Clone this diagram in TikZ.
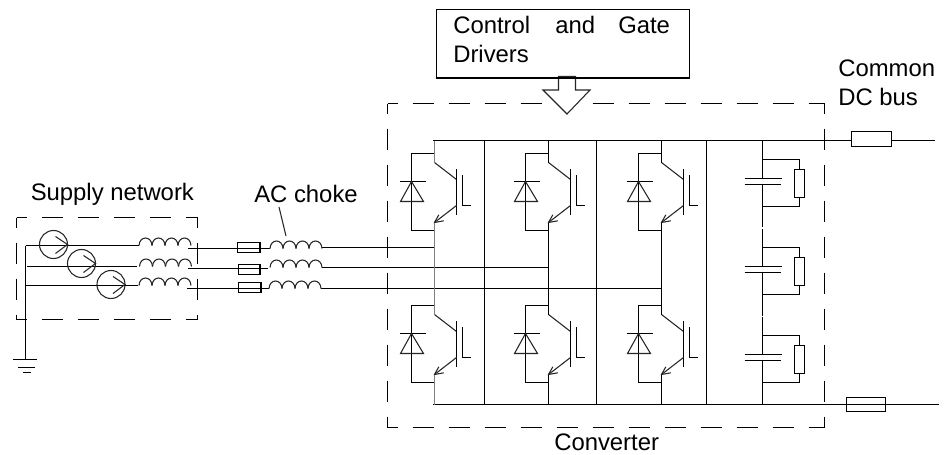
\documentclass[tikz,border=0pt]{standalone}
\usepackage{fontspec}
\setmainfont{Liberation Sans}
\tikzset{
  x=0.75pt,y=-0.75pt,
  wire/.style={line width=1pt,black},
  thin wire/.style={line width=0.8pt,black!85},
  spine/.style={line width=1.1pt,black!50},
  dashbox/.style={line width=1pt,black,dash pattern=on 15.75pt off 11.25pt,dash phase=8.2pt},
  lbl/.style={anchor=base west,inner sep=0pt,font=\fontsize{17.9}{20}\selectfont},
  switch/.pic={
    % diode bracket
    \draw[wire] (0,13) -- (-23,13) -- (-23,90) -- (0,90);
    \draw[wire] (-35,41) -- (-9,41);
    \draw[thin wire] (-23,41) -- (-34,61) -- (-11,61) -- cycle;
    % IGBT
    \draw[thin wire] (0,22) -- (22,39);
    \draw[wire] (22,28.5) -- (22,74.5);
    \draw[wire] (28,34.5) -- (28,65) -- (36,65);
    \draw[thin wire] (22,65) -- (0,82);
    \draw[thin wire] (4.3,74.3) -- (0,82) -- (9.3,80.3);
  },
  choke/.pic={
    \foreach \k in {0,1,2,3}
      \draw[thin wire] (\k*13,0) .. controls (\k*13+0.5,-10) and (\k*13+12.5,-10) .. (\k*13+13,0);
  },
  rcpair/.pic={
    % pic origin: column x, top tap y
    \draw[wire] (0,0) -- (37,0) -- (37,10);
    \draw[wire] (32,10) rectangle (42,38);
    \draw[wire] (37,38) -- (37,47) -- (-1,47);
    \draw[wire] (-18,19) -- (19,19);
    \draw[wire] (-18,25) -- (18,25);
    \draw[wire] (0,0) -- (0,19);
    \draw[wire] (0,25) -- (0,47);
  },
  source/.pic={
    \draw[thin wire] (0,0) circle[radius=14];
    \draw[thin wire] (2,-8) -- (14,0) -- (2,9);
  }
}
\begin{document}
\begin{tikzpicture}
\useasboundingbox (0,0) rectangle (949,454);

% ---- text
\node[lbl] (supply) at (30.5,200) {Supply network};
\node[lbl] (acchoke) at (254,202) {AC choke};
\node[lbl] (common) at (838,76.5) {Common};
\node[lbl] (dcbus) at (838,105) {DC bus};
\node[lbl] (converter) at (554,450.5) {Converter};

% ---- dashed converter box
\draw[dashbox] (387.5,103.5) -- (824.5,103.5);
\draw[dashbox] (387.5,427.5) -- (824.5,427.5);
\draw[dashbox] (387.5,103.5) -- (387.5,427.5);
\draw[dashbox] (824.5,103.5) -- (824.5,427.5);

% ---- control box and block arrow
\node[draw,line width=1pt,minimum width=190pt,minimum height=51pt,inner sep=0pt,anchor=north west] (ctrl) at (435.5,8.5) {};
\node[lbl] at (453,33) {Control};
\node[lbl] at (555,33) {and};
\node[lbl] at (618,33) {Gate};
\node[lbl] at (453,62) {Drivers};
\coordinate (al) at (558.5,76.5);
\coordinate (ar) at (575.5,76.5);
\draw[thin wire,fill=white] (543,90) -- (558.5,90) -- (al) -- (ar) -- (575.5,90) -- (590,90) -- (567,114) -- cycle;
\draw[wire] (ctrl.south west) -- (ctrl.south east);

% ---- supply box
\draw[dashbox] (16.5,217.5) -- (197.5,217.5);
\draw[dashbox] (16.5,319.5) -- (197.5,319.5);
\draw[dashbox] (16.5,217.5) -- (16.5,319.5);
\draw[dashbox] (197.5,217.5) -- (197.5,319.5);

% ---- earth
\draw[wire] (25.5,245.5) -- (25.5,359.5);
\draw[wire] (13,359.5) -- (37,359.5);
\draw[wire] (18,367.5) -- (35,367.5);
\draw[wire] (23,372.5) -- (31,372.5);

% ---- source branches
\draw[wire] (25.5,245.5) -- (139,245.5);
\draw[wire] (27,266.5) -- (137,266.5);
\draw[wire] (25.5,285.5) -- (138,285.5);
\pic at (53.5,244.5) {source};
\pic at (81.5,263.5) {source};
\pic at (111,284.5) {source};
\pic at (139,245.5) {choke};
\pic at (139.5,266.5) {choke};
\pic at (139,285.5) {choke};

% ---- phase lines
\draw[wire] (188,248.5) -- (270,248.5);
\draw[wire] (322,247.5) -- (434.5,247.5);
\draw[wire] (188,268.5) -- (268,268.5);
\draw[wire] (322,267.5) -- (548.5,267.5);
\draw[wire] (187,288.5) -- (269,288.5);
\draw[wire] (321,288.5) -- (661.5,288.5);
\draw[wire] (237.5,242.5) rectangle (260,252.5);
\draw[wire] (238.5,264.5) rectangle (260,274.5);
\draw[wire] (238.5,282.5) rectangle (261,292.5);
\pic at (270,248.5) {choke};
\pic at (270,267.5) {choke};
\pic at (269,288.5) {choke};
\draw[thin wire] (279,207) -- (286,236);

% ---- buses and partitions
\draw[wire] (433,140.5) -- (935,140.5);
\draw[wire] (433,404.5) -- (939,404.5);
\foreach \x in {484.5,596.5,706.5} \draw[wire] (\x,140.5) -- (\x,404.5);

% ---- switch legs
\foreach \x in {434.5,548.5,661.5} {
  \pic at (\x,140.5) {switch};
  \pic at (\x,292.5) {switch};
}
\draw[spine] (434.5,140.5) -- (434.5,162.5) (434.5,222.5) -- (434.5,314.5) (434.5,374.5) -- (434.5,404.5);
\foreach \x in {548.5,661.5}
  \draw[wire] (\x,140.5) -- (\x,162.5) (\x,222.5) -- (\x,314.5) (\x,374.5) -- (\x,404.5);

% ---- capacitor column
\draw[wire] (762.5,140.5) -- (762.5,159.5);
\pic at (762.5,159.5) {rcpair};
\draw[wire] (762.5,206.5) -- (762.5,227) (762.5,229) -- (762.5,247.5);
\pic at (762.5,247.5) {rcpair};
\draw[wire] (762.5,294.5) -- (762.5,315.5) (762.5,317) -- (762.5,335.5);
\pic at (762.5,335.5) {rcpair};
\draw[wire] (762.5,382.5) -- (762.5,404.5);

% ---- DC fuses
\draw[wire,fill=white] (851.5,131.5) rectangle (891.5,146.5);
\draw[wire] (846.5,397.5) rectangle (885.5,411.5);
\end{tikzpicture}
\end{document}
